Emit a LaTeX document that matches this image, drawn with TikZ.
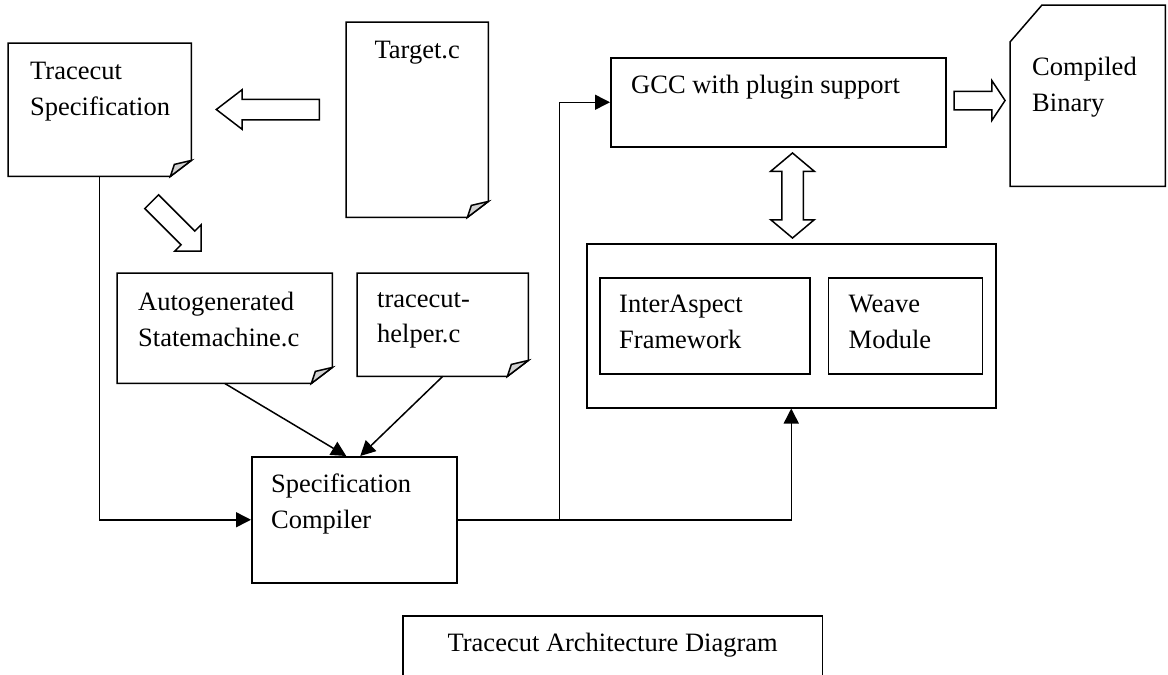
\documentclass[tikz,border=0pt]{standalone}
\usepackage{fontspec}
\setmainfont{Liberation Serif}
\usepackage{tikz}
\usetikzlibrary{arrows.meta, positioning, shapes.arrows}

% outline of a document with a curled lower right corner
\newcommand{\docoutline}[1]{%
  \draw[boxline] (#1.north west) -- (#1.north east) -- ([yshift=16pt]#1.south east)
    -- ([xshift=-21pt]#1.south east) -- (#1.south west) -- cycle;
  \filldraw[boxline, fill=gray!35] ([yshift=16pt]#1.south east) -- ([xshift=-21pt]#1.south east)
    -- ([xshift=-17pt,yshift=12pt]#1.south east) -- cycle;}

\begin{document}
\begin{tikzpicture}[
    x=1pt, y=-1pt,
    boxline/.style={line width=1.5pt, line join=miter},
    plainbox/.style={draw, boxline, anchor=north west, inner sep=0pt},
    docbox/.style={anchor=north west, inner sep=0pt},
    txt/.style={anchor=north west, inner sep=0pt, align=left, font=\fontsize{26.5pt}{35.5pt}\selectfont},
    hollow/.style={single arrow, draw, boxline, fill=white, inner xsep=0pt},
    arrow/.style={-{Triangle[length=15pt, width=15pt]}, line width=1.5pt}
]

\useasboundingbox (0,0) rectangle (1168,675);

% documents
\node[docbox, minimum width=183pt, minimum height=133pt] (tspec) at (8,43) {};
\node[docbox, minimum width=142pt, minimum height=195pt] (target) at (346,22) {};
\node[docbox, minimum width=215pt, minimum height=110pt] (autogen) at (117,273) {};
\node[docbox, minimum width=171pt, minimum height=103pt] (helper) at (357,273) {};
\docoutline{tspec}
\docoutline{target}
\docoutline{autogen}
\docoutline{helper}

\node[txt, below right=19pt and 22pt of tspec.north west] {Tracecut\\Specification};
\node[txt, anchor=north, below=19pt of target.north] {Target.c};
\node[txt, below right=19pt and 21pt of autogen.north west] {Autogenerated\\Statemachine.c};
\node[txt, below right=19pt and 20pt of helper.north west] {tracecut-\\helper.c};

% boxes
\node[plainbox, minimum width=205pt, minimum height=126pt] (spec) at (251,456) {};
\node[txt, below right=18pt and 20pt of spec.north west] {Specification\\Compiler};

\node[plainbox, minimum width=335pt, minimum height=89pt] (gcc) at (610,57) {};
\node[txt, below right=18pt and 21pt of gcc.north west] {GCC with plugin support};

\node[docbox, minimum width=155pt, minimum height=181pt] (binary) at (1010,5) {};
\draw[boxline] (binary.south west) -- ([yshift=-37pt]binary.north west) -- ([xshift=32pt]binary.north west)
  -- (binary.north east) -- (binary.south east) -- cycle;
\node[txt, below right=52pt and 22pt of binary.north west] {Compiled\\Binary};

\node[plainbox, minimum width=409pt, minimum height=164pt] (frame) at (586,243) {};
\node[plainbox, minimum width=210pt, minimum height=96pt] (inter) at (599,277) {};
\node[plainbox, minimum width=154pt, minimum height=96pt, right=17pt of inter.north east, anchor=north west] (weave) {};
\node[txt, below right=18pt and 20pt of inter.north west] {InterAspect\\Framework};
\node[txt, below right=18pt and 21pt of weave.north west] {Weave\\Module};

% hollow arrows
\node[hollow, minimum height=103pt, inner ysep=9.5pt, single arrow head extend=9.5pt,
  single arrow tip angle=75, shape border rotate=180] (toleft) at (274.5,109.5) {};
\node[hollow, minimum height=70pt, inner ysep=9pt, single arrow head extend=9pt,
  rotate=-45] (todown) at (173,223) {};
\node[hollow, minimum height=51pt, inner ysep=8.5pt, single arrow head extend=10.5pt,
  single arrow tip angle=113] (toright) at (976.5,100.5) {};
\node[double arrow, draw, boxline, fill=white, inner xsep=0pt, minimum height=85pt, inner ysep=10pt,
  double arrow head extend=11pt, double arrow tip angle=100, rotate=90] (both) at (792.5,195.5) {};

% connectors
\draw[arrow] (tspec.south) |- (spec.west);
\draw[arrow] (autogen.south) -- ([xshift=-8pt]spec.north);
\draw[arrow] (helper.south) -- ([xshift=6pt]spec.north);
\draw[arrow] (spec.east) -| (frame.south);
\draw[arrow] (spec.east) -- ++(102,0) |- (gcc.west);

% caption
\node[docbox, minimum width=419pt, minimum height=59pt] (caption) at (403,616) {};
\draw[boxline] (caption.south west) -- (caption.north west) -- (caption.north east) -- (caption.south east);
\node[txt, anchor=north, below=17pt of caption.north] {Tracecut Architecture Diagram};

\end{tikzpicture}
\end{document}
